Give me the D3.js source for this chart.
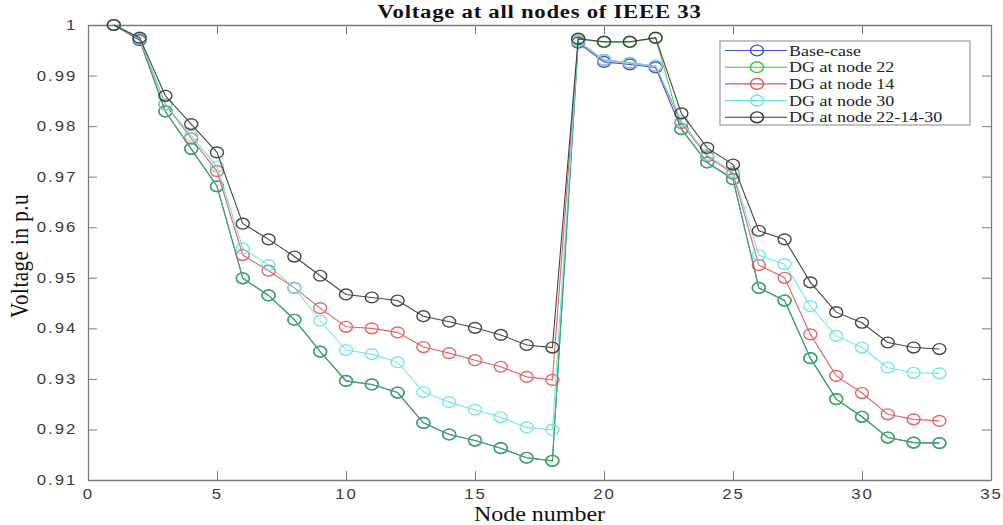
<!DOCTYPE html>
<html>
<head>
<meta charset="utf-8">
<script src="https://cdn.jsdelivr.net/npm/d3@7/dist/d3.min.js"></script>
<style>
  html, body { margin: 0; padding: 0; background: #fff; }
  svg { display: block; }
</style>
</head>
<body>
<svg id="chart" width="1003" height="525"></svg>
<script>
// Bus numbers of the IEEE 33-bus feeder
const nodes = [1, 2, 3, 4, 5, 6, 7, 8, 9, 10, 11, 12, 13, 14, 15, 16, 17, 18,
               19, 20, 21, 22, 23, 24, 25, 26, 27, 28, 29, 30, 31, 32, 33];

// Bus voltages (p.u.) for each case
const baseCase = [1.0000, 0.9970, 0.9829, 0.9755, 0.9681, 0.9499, 0.9465, 0.9417, 0.9354, 0.9296, 0.9289,
                  0.9273, 0.9213, 0.9190, 0.9178, 0.9163, 0.9144, 0.9138, 0.9965, 0.9927, 0.9922, 0.9916,
                  0.9794, 0.9728, 0.9695, 0.9480, 0.9455, 0.9341, 0.9260, 0.9225, 0.9184, 0.9174, 0.9173];
const dgNode22 = [1.0000, 0.9972, 0.9829, 0.9755, 0.9681, 0.9499, 0.9465, 0.9417, 0.9354, 0.9296, 0.9289,
                  0.9273, 0.9213, 0.9190, 0.9178, 0.9163, 0.9144, 0.9138, 0.9972, 0.9966, 0.9966, 0.9974,
                  0.9794, 0.9728, 0.9695, 0.9480, 0.9455, 0.9341, 0.9260, 0.9225, 0.9184, 0.9174, 0.9173];
const dgNode14 = [1.0000, 0.9973, 0.9843, 0.9776, 0.9711, 0.9545, 0.9514, 0.9480, 0.9440, 0.9403, 0.9400,
                  0.9392, 0.9363, 0.9351, 0.9337, 0.9324, 0.9304, 0.9298, 0.9968, 0.9931, 0.9925, 0.9919,
                  0.9806, 0.9740, 0.9706, 0.9525, 0.9500, 0.9388, 0.9306, 0.9272, 0.9230, 0.9220, 0.9217];
const dgNode30 = [1.0000, 0.9973, 0.9843, 0.9781, 0.9720, 0.9558, 0.9525, 0.9480, 0.9415, 0.9357, 0.9349,
                  0.9333, 0.9274, 0.9254, 0.9239, 0.9224, 0.9204, 0.9199, 0.9968, 0.9931, 0.9925, 0.9919,
                  0.9810, 0.9743, 0.9709, 0.9545, 0.9527, 0.9444, 0.9385, 0.9362, 0.9322, 0.9312, 0.9311];
const dgAll     = [1.0000, 0.9975, 0.9860, 0.9804, 0.9748, 0.9607, 0.9576, 0.9542, 0.9504, 0.9467, 0.9461,
                  0.9455, 0.9424, 0.9413, 0.9401, 0.9387, 0.9367, 0.9362, 0.9973, 0.9967, 0.9967, 0.9975,
                  0.9825, 0.9757, 0.9724, 0.9593, 0.9576, 0.9491, 0.9432, 0.9411, 0.9372, 0.9362, 0.9359];

const seriesNames  = ["Base-case", "DG at node 22", "DG at node 14", "DG at node 30", "DG at node 22-14-30"];
const seriesColors = ["#3f4fd0", "#3cc43c", "#e05555", "#6ae3e3", "#333333"];
const seriesValues = [baseCase, dgNode22, dgNode14, dgNode30, dgAll];
const seriesAlpha  = [1, 0.8, 0.9, 0.9, 0.9];

const xTicks = [0, 5, 10, 15, 20, 25, 30, 35];
const yTicks = [0.91, 0.92, 0.93, 0.94, 0.95, 0.96, 0.97, 0.98, 0.99, 1];

const titleText = "Voltage at all nodes of IEEE 33";
const xLabel = "Node number";
const yLabel = "Voltage in p.u";

// Layout
const W = 1003, H = 525;
const m = { left: 88, right: 12, top: 25, bottom: 45 };
const SX = 1.2;            // horizontal stretch of the lettering
const axisGray = "#7a7a7a";

const svg = d3.select("#chart");
const pw = W - m.left - m.right, ph = H - m.top - m.bottom;

const x = d3.scaleLinear().domain([0, 35]).range([m.left, m.left + pw]);
const y = d3.scaleLinear().domain([0.91, 1]).range([m.top + ph, m.top]);

const tickFont = "'Liberation Sans', Arial, sans-serif";
const serif = "'Liberation Serif', 'Times New Roman', serif";

function stretchTexts(sel) {
  sel.selectAll(".tick text")
    .attr("transform", `scale(${SX},1)`)
    .style("letter-spacing", "1.6px");
}

// Axes: ticks point inward on all four sides
const gx = svg.append("g").attr("transform", `translate(0,${m.top + ph})`)
  .call(d3.axisBottom(x).tickValues(xTicks).tickSizeInner(-9).tickSizeOuter(0).tickPadding(9).tickFormat(d3.format("d")));
const gy = svg.append("g").attr("transform", `translate(${m.left},0)`)
  .call(d3.axisLeft(y).tickValues(yTicks).tickSizeInner(-9).tickSizeOuter(0).tickPadding(9).tickFormat(d => d === 1 ? "1" : d3.format(".2f")(d)));
const gxt = svg.append("g").attr("transform", `translate(0,${m.top})`)
  .call(d3.axisTop(x).tickValues(xTicks).tickSizeInner(-9).tickSizeOuter(0).tickFormat(""));
const gyr = svg.append("g").attr("transform", `translate(${m.left + pw},0)`)
  .call(d3.axisRight(y).tickValues(yTicks).tickSizeInner(-9).tickSizeOuter(0).tickFormat(""));

[gx, gy, gxt, gyr].forEach(g => {
  g.select(".domain").attr("stroke", axisGray).attr("stroke-width", 1.3);
  g.selectAll(".tick line").attr("stroke", axisGray).attr("stroke-width", 1);
  g.selectAll(".tick text").attr("fill", "#3a3a3a").style("font-family", tickFont).style("font-size", "14px");
});
stretchTexts(gx);
stretchTexts(gy);

// Series lines and circle markers
const line = d3.line().x((d, i) => x(nodes[i])).y(d => y(d));
const plot = svg.append("g");
seriesValues.forEach((vals, s) => {
  const g = plot.append("g").attr("opacity", seriesAlpha[s]);
  g.append("path").datum(vals)
    .attr("d", line)
    .attr("fill", "none")
    .attr("stroke", seriesColors[s])
    .attr("stroke-width", 1.1);
  g.selectAll("ellipse").data(vals).join("ellipse")
    .attr("cx", (d, i) => x(nodes[i]))
    .attr("cy", d => y(d))
    .attr("rx", 6.5).attr("ry", 5.4)
    .attr("fill", "none")
    .attr("stroke", seriesColors[s])
    .attr("stroke-width", 1.4);
});

// Title and axis labels
svg.append("text")
  .attr("transform", `translate(${m.left + pw / 2},18) scale(${SX},1)`)
  .attr("text-anchor", "middle")
  .style("font-family", serif).style("font-weight", "bold").style("font-size", "19px")
  .style("letter-spacing", "0.6px")
  .attr("fill", "#111")
  .text(titleText);

svg.append("text")
  .attr("transform", `translate(${m.left + pw / 2},521) scale(${SX},1)`)
  .attr("text-anchor", "middle")
  .style("font-family", serif).style("font-size", "20px")
  .attr("fill", "#111")
  .text(xLabel);

svg.append("text")
  .attr("transform", `translate(28,256) rotate(-90) scale(1,${SX})`)
  .attr("text-anchor", "middle")
  .style("font-family", serif).style("font-size", "21px")
  .style("letter-spacing", "0.5px")
  .attr("fill", "#111")
  .text(yLabel);

// Legend
const lg = svg.append("g").attr("transform", "translate(720,41)");
lg.append("rect").attr("width", 250).attr("height", 84)
  .attr("fill", "#fff").attr("stroke", "#9a9a9a").attr("stroke-width", 1.2);
seriesNames.forEach((name, i) => {
  const ry = 9.5 + i * 16.7;
  lg.append("line").attr("x1", 5).attr("x2", 67).attr("y1", ry).attr("y2", ry)
    .attr("stroke", seriesColors[i]).attr("stroke-width", 1.1);
  lg.append("ellipse").attr("cx", 37).attr("cy", ry).attr("rx", 6.5).attr("ry", 5.4)
    .attr("fill", "none").attr("stroke", seriesColors[i]).attr("stroke-width", 1.4);
  lg.append("text")
    .attr("transform", `translate(69,${ry + 5}) scale(${SX},1)`)
    .style("font-family", serif).style("font-size", "15px")
    .attr("fill", "#222")
    .text(name);
});
</script>
</body>
</html>
